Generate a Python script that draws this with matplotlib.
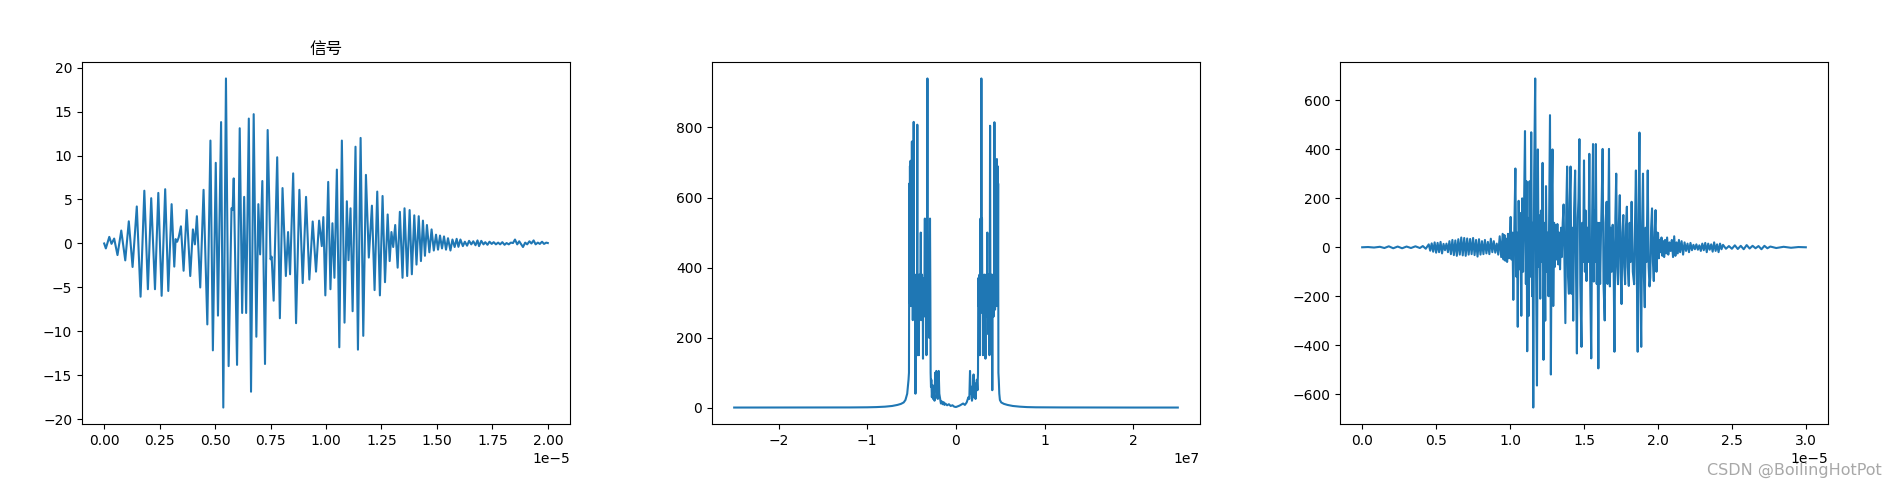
import matplotlib
matplotlib.use('Agg')
import matplotlib.pyplot as plt

plt.rcParams['font.family'] = ['DejaVu Sans']

# ---------------- panel 1: received signal (time in 1e-5 s) ----------------
title1 = '信号'
sig_t = [0.000, 0.0075, 0.023, 0.033, 0.045, 0.060, 0.077, 0.095, 0.111, 0.128,
         0.147, 0.164, 0.181, 0.197, 0.212, 0.229, 0.244, 0.259, 0.275, 0.289,
         0.304, 0.316, 0.322, 0.329, 0.336, 0.346, 0.358, 0.372, 0.388, 0.400,
         0.409, 0.418, 0.433, 0.448, 0.465, 0.479, 0.490, 0.503, 0.513, 0.527,
         0.537, 0.549, 0.561, 0.574, 0.579, 0.584, 0.599, 0.611, 0.622, 0.631,
         0.640, 0.652, 0.662, 0.674, 0.686, 0.695, 0.703, 0.713, 0.725, 0.737,
         0.750, 0.755, 0.764, 0.780, 0.792, 0.804, 0.819, 0.829, 0.838, 0.852,
         0.865, 0.880, 0.895, 0.910, 0.925, 0.940, 0.955, 0.969, 0.981, 0.988,
         0.997, 1.010, 1.020, 1.029, 1.038, 1.049, 1.060, 1.0715, 1.0835, 1.094,
         1.1015, 1.1105, 1.120, 1.133, 1.144, 1.156, 1.168, 1.180, 1.193, 1.207,
         1.219, 1.231, 1.243, 1.255, 1.266, 1.278, 1.287, 1.295, 1.303, 1.312,
         1.323, 1.333, 1.345, 1.354, 1.366, 1.377, 1.387, 1.398, 1.408, 1.418,
         1.428, 1.437, 1.446, 1.455, 1.466, 1.476, 1.486, 1.496, 1.505, 1.514,
         1.523, 1.532, 1.541, 1.550, 1.561, 1.570, 1.580, 1.589, 1.597, 1.606,
         1.617, 1.626, 1.636, 1.645, 1.655, 1.664, 1.674, 1.683, 1.690, 1.700,
         1.710, 1.718, 1.728, 1.737, 1.747, 1.756, 1.766, 1.776, 1.785, 1.795,
         1.805, 1.814, 1.824, 1.833, 1.843, 1.852, 1.862, 1.871, 1.880, 1.888,
         1.898, 1.907, 1.917, 1.926, 1.936, 1.945, 1.955, 1.964, 1.974, 1.983,
         1.993, 2.000]
sig_v = [0.0, -0.56, 0.75, -0.04, 0.56, -1.32, 1.47, -1.92, 2.52, -2.67,
         4.21, -6.05, 6.0, -5.2, 5.15, -5.2, 5.75, -5.95, 6.17, -5.4,
         4.47, -2.63, 0.5, 0.2, 0.7, 1.95, -3.1, 3.8, -3.7, 1.6,
         -0.1, 3.1, -5.0, 6.1, -9.2, 11.7, -12.15, 9.17, -8.2, 13.8,
         -18.65, 18.76, -13.94, 4.0, 3.8, 7.4, -13.8, 13.1, -7.9, 5.3,
         -7.9, 14.2, -16.85, 14.7, -10.6, 4.47, -1.24, 7.1, -13.7, 12.9,
         -1.8, -1.5, -6.5, 9.8, -8.5, 6.3, -3.7, 1.3, -3.5, 7.97,
         -9.06, 6.1, -4.5, 5.3, -4.1, 2.5, -3.2, 2.6, -0.3, 3.0,
         -5.9, 7.0, -5.2, 2.3, -3.9, 8.4, -11.8, 11.7, -9.0, 4.8,
         -1.9, 4.0, -7.7, 11.0, -12.07, 12.0, -10.5, 7.8, -1.6, 4.3,
         -5.3, 5.9, -5.9, 5.4, -4.4, 3.3, -2.0, 1.3, -0.4, 2.1,
         -2.75, 3.6, -3.9, 4.0, -3.7, 3.8, -3.5, 3.2, -2.4, 3.1,
         -2.0, 2.6, -1.4, 2.1, -1.0, 1.6, -0.8, 1.0, -0.7, 0.9,
         -0.56, 0.8, -0.7, 0.6, -0.8, 0.45, -0.4, 0.53, -0.38, 0.45,
         -0.3, 0.2, -0.25, 0.3, -0.1, 0.25, -0.2, 0.35, -0.3, 0.3,
         -0.1, 0.15, -0.15, 0.2, -0.05, 0.15, -0.1, 0.1, -0.1, 0.15,
         -0.15, 0.05, -0.1, 0.1, 0.05, 0.45, -0.1, 0.25, -0.1, -0.4,
         0.1, -0.1, 0.25, 0.0, 0.35, -0.1, 0.1, -0.05, 0.2, -0.05,
         0.1, 0.05]

# ---------------- panel 2: spectrum magnitude (frequency in 1e7 Hz) ----------------
spec_f = [-2.50, -2.0, -1.5, -1.2, -1.0, -0.9, -0.8, -0.72, -0.66, -0.62,
          -0.59, -0.57, -0.55, -0.535, -0.530, -0.526, -0.522, -0.519, -0.516, -0.512,
          -0.508, -0.505, -0.501, -0.497, -0.494, -0.490, -0.487, -0.484, -0.480, -0.477,
          -0.474, -0.470, -0.467, -0.464, -0.460, -0.457, -0.453, -0.450, -0.446, -0.443,
          -0.440, -0.436, -0.433, -0.429, -0.426, -0.422, -0.418, -0.415, -0.411, -0.408,
          -0.404, -0.400, -0.397, -0.393, -0.390, -0.386, -0.383, -0.379, -0.376, -0.372,
          -0.369, -0.365, -0.362, -0.358, -0.355, -0.351, -0.348, -0.344, -0.341, -0.337,
          -0.333, -0.330, -0.326, -0.322, -0.319, -0.315, -0.311, -0.308, -0.304, -0.300,
          -0.296, -0.293, -0.289, -0.286, -0.282, -0.278, -0.272, -0.265, -0.258, -0.250,
          -0.242, -0.235, -0.228, -0.222, -0.215, -0.205, -0.195, -0.188, -0.180, -0.170,
          -0.160, -0.150, -0.140, -0.130, -0.120, -0.100, -0.080, -0.060, -0.040, -0.020,
          0.000, 0.020, 0.040, 0.060, 0.080, 0.100, 0.120, 0.140, 0.150, 0.158,
          0.165, 0.172, 0.180, 0.190, 0.198, 0.205, 0.212, 0.220, 0.228, 0.235,
          0.242, 0.248, 0.251, 0.255, 0.258, 0.262, 0.265, 0.269, 0.272, 0.276,
          0.279, 0.283, 0.286, 0.290, 0.293, 0.297, 0.300, 0.304, 0.307, 0.311,
          0.314, 0.318, 0.321, 0.325, 0.328, 0.332, 0.335, 0.339, 0.342, 0.346,
          0.349, 0.353, 0.356, 0.360, 0.363, 0.367, 0.370, 0.374, 0.377, 0.381,
          0.384, 0.388, 0.391, 0.395, 0.398, 0.402, 0.405, 0.409, 0.412, 0.416,
          0.419, 0.423, 0.426, 0.430, 0.433, 0.437, 0.440, 0.444, 0.447, 0.451,
          0.454, 0.458, 0.461, 0.465, 0.468, 0.472, 0.475, 0.478, 0.482, 0.488,
          0.495, 0.51, 0.54, 0.58, 0.64, 0.72, 0.8, 0.9, 1.0, 1.2,
          1.5, 2.0, 2.5]
spec_m = [0.5, 0.5, 0.6, 0.8, 1.2, 1.8, 3, 5, 8, 11,
          15, 22, 40, 80, 100, 640, 300, 690, 330, 705,
          290, 700, 350, 760, 300, 400, 250, 380, 300, 816,
          350, 280, 300, 360, 300, 40, 260, 380, 290, 380,
          260, 808, 150, 370, 290, 350, 150, 380, 270, 370,
          280, 360, 500, 250, 370, 270, 380, 260, 360, 140,
          350, 280, 370, 290, 360, 540, 260, 380, 290, 360,
          150, 540, 380, 940, 300, 360, 270, 380, 200, 360,
          380, 540, 330, 100, 60, 80, 30, 65, 25, 45,
          20, 100, 60, 105, 30, 25, 105, 40, 28, 12,
          18, 10, 16, 8, 12, 7, 10, 5, 7, 3,
          2, 4, 6, 9, 12, 8, 15, 30, 25, 105,
          40, 60, 20, 35, 95, 30, 70, 25, 60, 80,
          50, 100, 370, 290, 360, 280, 380, 150, 360, 540,
          300, 380, 940, 320, 540, 270, 380, 150, 360, 290,
          370, 250, 380, 280, 360, 140, 370, 290, 380, 260,
          360, 500, 270, 370, 210, 380, 290, 360, 150, 370,
          805, 260, 380, 290, 360, 270, 380, 50, 360, 300,
          370, 260, 360, 300, 815, 350, 280, 380, 300, 400,
          700, 290, 710, 330, 690, 300, 640, 100, 80, 40,
          22, 15, 11, 8, 5, 3, 1.8, 1.2, 1, 0.8,
          0.6, 0.5, 0.5]

# ---------------- panel 3: processed signal (time in 1e-5 s) ----------------
out_t = [0.00, 0.04, 0.08, 0.12, 0.15, 0.18, 0.21, 0.24, 0.27, 0.30,
         0.33, 0.36, 0.39, 0.41, 0.43, 0.45, 0.46, 0.47, 0.48, 0.49,
         0.50, 0.51, 0.52, 0.53, 0.54, 0.55, 0.56, 0.57, 0.58, 0.59,
         0.60, 0.61, 0.62, 0.63, 0.64, 0.65, 0.66, 0.67, 0.68, 0.69,
         0.70, 0.71, 0.72, 0.73, 0.74, 0.75, 0.76, 0.77, 0.78, 0.79,
         0.80, 0.81, 0.82, 0.83, 0.84, 0.85, 0.86, 0.87, 0.88, 0.89,
         0.90, 0.91, 0.92, 0.93, 0.94, 0.95, 0.956, 0.962, 0.968, 0.974,
         0.980, 0.986, 0.992, 0.998, 1.004, 1.010, 1.016, 1.022, 1.029, 1.036,
         1.042, 1.047, 1.052, 1.058, 1.064, 1.070, 1.076, 1.082, 1.088, 1.094,
         1.101, 1.107, 1.111, 1.116, 1.122, 1.127, 1.132, 1.138, 1.143, 1.149,
         1.153, 1.157, 1.163, 1.170, 1.176, 1.182, 1.188, 1.193, 1.198, 1.204,
         1.209, 1.214, 1.220, 1.226, 1.232, 1.238, 1.243, 1.249, 1.254, 1.260,
         1.265, 1.270, 1.276, 1.282, 1.287, 1.292, 1.298, 1.303, 1.308, 1.314,
         1.320, 1.326, 1.332, 1.338, 1.345, 1.350, 1.356, 1.362, 1.368, 1.374,
         1.380, 1.386, 1.392, 1.398, 1.403, 1.409, 1.415, 1.421, 1.427, 1.433,
         1.440, 1.446, 1.452, 1.458, 1.463, 1.469, 1.475, 1.483, 1.488, 1.494,
         1.500, 1.506, 1.511, 1.517, 1.524, 1.530, 1.536, 1.542, 1.549, 1.555,
         1.561, 1.566, 1.572, 1.576, 1.580, 1.586, 1.591, 1.597, 1.603, 1.609,
         1.615, 1.620, 1.626, 1.632, 1.640, 1.646, 1.653, 1.659, 1.664, 1.669,
         1.675, 1.681, 1.687, 1.694, 1.700, 1.706, 1.712, 1.718, 1.724, 1.730,
         1.736, 1.742, 1.748, 1.754, 1.760, 1.766, 1.772, 1.778, 1.784, 1.790,
         1.796, 1.803, 1.809, 1.815, 1.822, 1.830, 1.839, 1.845, 1.851, 1.857,
         1.863, 1.869, 1.875, 1.881, 1.887, 1.893, 1.899, 1.905, 1.911, 1.917,
         1.923, 1.931, 1.937, 1.943, 1.948, 1.954, 1.960, 1.966, 1.972, 1.978,
         1.984, 1.990, 1.996, 2.001, 2.006, 2.012, 2.018, 2.024, 2.030, 2.036,
         2.042, 2.048, 2.055, 2.062, 2.070, 2.078, 2.086, 2.094, 2.102, 2.110,
         2.118, 2.126, 2.134, 2.142, 2.150, 2.160, 2.170, 2.180, 2.190, 2.200,
         2.210, 2.220, 2.230, 2.240, 2.250, 2.260, 2.270, 2.280, 2.290, 2.300,
         2.310, 2.320, 2.330, 2.340, 2.350, 2.360, 2.370, 2.380, 2.390, 2.400,
         2.410, 2.420, 2.430, 2.440, 2.460, 2.480, 2.500, 2.520, 2.540, 2.560,
         2.580, 2.600, 2.620, 2.640, 2.660, 2.680, 2.700, 2.720, 2.740, 2.760,
         2.800, 2.850, 2.900, 2.950, 3.000]
out_v = [0, 1, -1, 2, -3, 4, -4, 3, -4, 3,
         -3, 4, -3, 5, -6, 12, -14, 16, -18, 20,
         -22, 18, -20, 22, -25, 14, -12, 15, -20, 25,
         -28, 30, -32, 28, -35, 33, -30, 40, -33, 38,
         -35, 36, -30, 34, -28, 38, -32, 30, -38, 33,
         -30, 25, -28, 30, -25, 22, -28, 35, -20, 25,
         -22, 15, -30, 45, -40, 55, -50, 50, -55, 35,
         -60, 55, -45, 30, 124, -50, 60, -215, 80, 322,
         -120, 60, -325, 190, -90, 140, -280, 200, -100, 140,
         475, -150, 270, -425, 120, -280, 270, -120, 470, -200,
         100, -655, 300, 690, -120, -565, 400, -80, 130, -210,
         150, -60, 345, -460, 100, -300, 250, -100, 60, -200,
         200, 540, -520, 200, 400, -240, 100, -80, 90, -50,
         95, -70, 60, -90, 80, -40, 100, 175, -60, -310,
         150, 330, -120, -190, 180, 330, -190, 80, -300, 150,
         314, -100, -434, 120, 200, 442, -150, -407, 100, -60,
         355, -100, 150, -138, 80, -60, 382, -150, -454, 120,
         422, -140, 150, -60, 422, -150, 100, -495, 100, -150,
         60, 200, 402, -150, -299, 100, 186, -150, 90, 402,
         -160, 80, -100, 92, -60, -427, 120, 301, -80, -151,
         100, 213, -100, -232, 60, 132, -80, -151, 90, 166,
         -80, -158, 100, -60, 186, -100, -151, 100, 314, -100,
         -427, 150, 469, -150, -407, 100, 301, -120, -245, 80,
         -60, 314, -80, -160, -124, 80, 159, -60, -138, 60,
         152, -100, 60, 58, -45, 30, -20, 40, -35, 25,
         -40, 30, -25, 40, -30, 20, -15, 30, -40, 45,
         -35, 20, -25, 30, -20, 25, -30, 20, -15, 15,
         -20, 18, -12, 10, -8, 12, -10, 8, -15, 15,
         -12, 18, -20, 15, -10, 12, -18, 20, -15, 12,
         -20, 15, -8, 10, -6, 5, -6, 8, -7, 6,
         -8, 9, -5, 6, -4, 5, -8, 6, -4, 3,
         -3, 2, -2, 1, 0]

# ---------------- figure ----------------
W, H = 1895, 480
fig = plt.figure(figsize=(W / 100, H / 100), dpi=100)
bottom = (H - 424) / H
height = 362 / H
width = 488 / W
ax1 = fig.add_axes([82 / W, bottom, width, height])
ax2 = fig.add_axes([712 / W, bottom, width, height])
ax3 = fig.add_axes([1340 / W, bottom, width, height])

ax1.plot([t * 1e-5 for t in sig_t], sig_v, color='#1f77b4', lw=1.5)
ax1.set_title(title1, family=['Noto Sans CJK SC', 'DejaVu Sans'], fontsize=12)

ax2.plot([f * 1e7 for f in spec_f], spec_m, color='#1f77b4', lw=1.5)

ax3.plot([t * 1e-5 for t in out_t], out_v, color='#1f77b4', lw=1.5)

fig.text(0.993, 0.004, 'CSDN @BoilingHotPot', ha='right', va='bottom',
         fontsize=11.5, color='#a8a8a8')

fig.savefig('out.png', dpi=100)
